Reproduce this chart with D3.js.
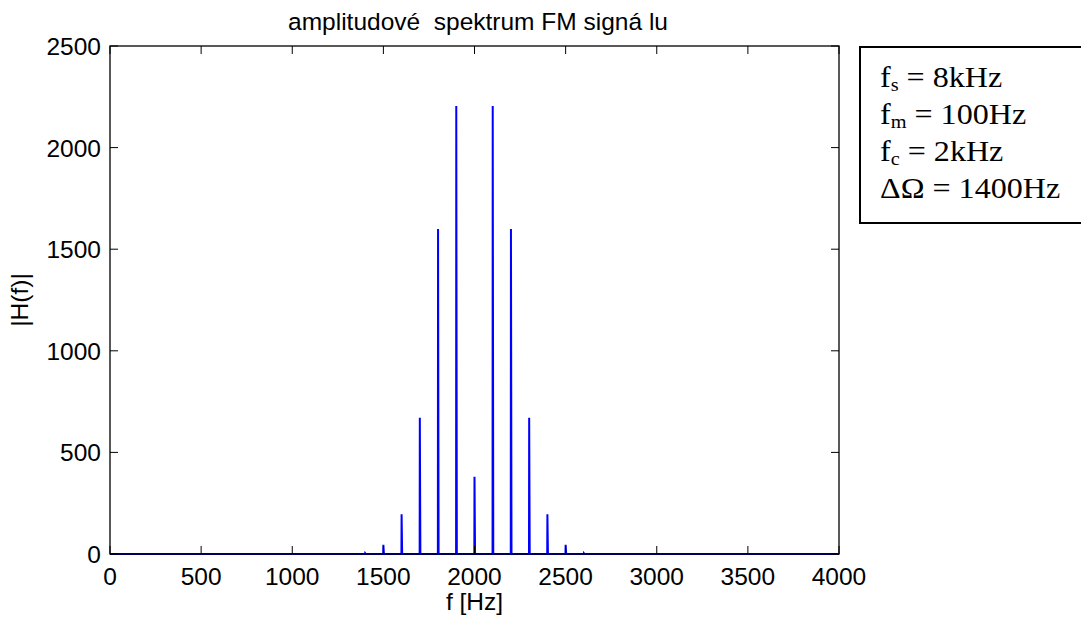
<!DOCTYPE html>
<html><head><meta charset="utf-8">
<script src="https://cdn.jsdelivr.net/npm/d3@7/dist/d3.min.js"></script>
<style>body{margin:0;background:#fff}svg{display:block}</style>
</head><body>
<svg id="c" width="1081" height="623"></svg>
<script>
const spikeFreqs = [1400,1500,1600,1700,1800,1900,2000,2100,2200,2300,2400,2500,2600];
const spikeAmps  = [4,45,195,670,1600,2205,380,2205,1600,670,195,45,4];
const xTicks = [0,500,1000,1500,2000,2500,3000,3500,4000];
const yTicks = [0,500,1000,1500,2000,2500];
const legendLines = [["f","s"," = 8kHz"],["f","m"," = 100Hz"],["f","c"," = 2kHz"],["ΔΩ","", " = 1400Hz"]];

const svg = d3.select("#c");
const L=110,R=839,T=46,B=554;
const x = d3.scaleLinear().domain([0,4000]).range([L,R]);
const y = d3.scaleLinear().domain([0,2500]).range([B,T]);

const pts=[[0,0]];
spikeFreqs.forEach((f,i)=>{pts.push([f-1,0]);pts.push([f,spikeAmps[i]]);pts.push([f+3,0]);});
pts.push([4000,0]);
const line=d3.line().x(d=>x(d[0])).y(d=>y(d[1]));
svg.append("path").attr("d",line(pts)).attr("fill","none").attr("stroke","#0000ff").attr("stroke-width",2);

svg.append("rect").attr("x",L).attr("y",T).attr("width",R-L).attr("height",B-T).attr("fill","none").attr("stroke","#000").attr("stroke-width",1.3);
const font="Liberation Sans, Arial, sans-serif";
const fs=24.5;
const tl=8;
const g=svg.append("g");
xTicks.forEach(t=>{
  g.append("line").attr("x1",x(t)).attr("x2",x(t)).attr("y1",B).attr("y2",B-tl).attr("stroke","#000");
  g.append("line").attr("x1",x(t)).attr("x2",x(t)).attr("y1",T).attr("y2",T+tl).attr("stroke","#000");
  g.append("text").attr("x",x(t)).attr("y",585).attr("text-anchor","middle").attr("font-family",font).attr("font-size",fs).text(t);
});
yTicks.forEach(t=>{
  g.append("line").attr("x1",L).attr("x2",L+tl).attr("y1",y(t)).attr("y2",y(t)).attr("stroke","#000");
  g.append("line").attr("x1",R).attr("x2",R-tl).attr("y1",y(t)).attr("y2",y(t)).attr("stroke","#000");
  g.append("text").attr("x",L-9).attr("y",y(t)+9).attr("text-anchor","end").attr("font-family",font).attr("font-size",fs).text(t);
});
svg.append("text").attr("x",478).attr("y",30).attr("text-anchor","middle").attr("font-family",font).attr("font-size",fs).style("white-space","pre").text("amplitudové  spektrum FM signá lu");
svg.append("text").attr("x",(L+R)/2).attr("y",610).attr("text-anchor","middle").attr("font-family",font).attr("font-size",fs).text("f [Hz]");
svg.append("text").attr("transform",`translate(28,${(T+B)/2}) rotate(-90)`).attr("text-anchor","middle").attr("font-family",font).attr("font-size",fs).text("|H(f)|");

svg.append("rect").attr("x",860).attr("y",47).attr("width",230).attr("height",176).attr("fill","#fff").attr("stroke","#000").attr("stroke-width",2);
const serif="Liberation Serif, Times New Roman, serif";
const lg=svg.append("g").attr("transform","translate(880,0) scale(1.07,1)");
legendLines.forEach((l,i)=>{
  const t=lg.append("text").attr("x",0).attr("y",87+i*36.9).attr("font-family",serif).attr("font-size",30);
  t.append("tspan").text(l[0]);
  if(l[1]) t.append("tspan").attr("font-size",19).attr("dy",4).text(l[1]);
  t.append("tspan").attr("dy",l[1]?-4:0).text(l[2]);
});
</script>
</body></html>
